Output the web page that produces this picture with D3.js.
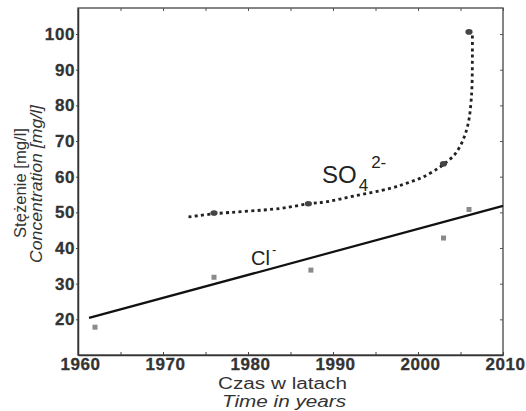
<!DOCTYPE html>
<html><head><meta charset="utf-8">
<script src="https://cdn.jsdelivr.net/npm/d3@7"></script>
<style>
body{margin:0;background:#fff;}
svg{display:block;font-family:"Liberation Sans",Arial,sans-serif;}
</style></head>
<body>
<svg id="c" width="526" height="411"></svg>
<script>
// Measured data
const clYears = [1962, 1976, 1987.4, 2003, 2006];
const clValues = [17.8, 31.8, 33.8, 42.8, 50.8];
const so4Years = [1976, 1987.1, 2003, 2006];
const so4Values = [49.8, 52.4, 63.6, 100.6];
// Cl- trend line end points
const clTrendYears = [1961.3, 2010];
const clTrendValues = [20.4, 51.8];
// SO4 fitted curve read along its course
const so4CurveYears = [1973, 1976, 1983.8, 1987.1, 1989.3, 1992.5, 1996.7, 1998.7, 2000.6, 2002.4, 2003.3, 2004.2, 2004.9, 2005.45, 2005.8, 2006.05, 2006.22, 2006.35, 2006.4, 2006.4];
const so4CurveValues = [48.7, 49.6, 51.1, 52.4, 53.0, 54.6, 56.7, 58.2, 59.9, 62.4, 64.0, 65.9, 68.3, 71.2, 73.9, 76.8, 80.5, 85.2, 94.5, 99.6];
const xTicks = [1960, 1965, 1970, 1975, 1980, 1985, 1990, 1995, 2000, 2005, 2010];
const yTicks = [20, 30, 40, 50, 60, 70, 80, 90, 100];

const svg = d3.select("#c");
const L = 78, R = 503, T = 8, B = 355;
const x = d3.scaleLinear().domain([1960, 2010]).range([L, R]);
const y = d3.scaleLinear().domain([10, 107.3]).range([B, T]);

// frame
svg.append("rect").attr("x", L).attr("y", T).attr("width", R - L).attr("height", B - T)
  .attr("fill", "none").attr("stroke", "#444").attr("stroke-width", 1.3);

// bottom axis
const gx = svg.append("g").attr("transform", `translate(0,${B})`)
  .call(d3.axisBottom(x).tickValues(xTicks).tickSizeInner(-3).tickSizeOuter(0).tickPadding(3)
    .tickFormat(d => d % 10 === 0 ? d : ""));
gx.select(".domain").attr("stroke", "#333").attr("stroke-width", 1.5);
gx.selectAll(".tick line").attr("stroke", "#444");
gx.selectAll("text").attr("font-size", 17).attr("font-weight", "bold").attr("fill", "#333")
  .attr("letter-spacing", 0.6).attr("dx", 2).attr("stroke", "#333").attr("stroke-width", 0.3);

// top ticks
svg.append("g").attr("transform", `translate(0,${T})`)
  .call(d3.axisTop(x).tickValues(xTicks).tickSizeInner(-3).tickSizeOuter(0).tickFormat(""))
  .call(g => { g.select(".domain").remove(); g.selectAll(".tick line").attr("stroke", "#555"); });

// left axis
const gy = svg.append("g").attr("transform", `translate(${L},0)`)
  .call(d3.axisLeft(y).tickValues(yTicks).tickSizeInner(2).tickSizeOuter(0).tickPadding(1));
gy.select(".domain").attr("stroke", "#333").attr("stroke-width", 1.5);
gy.selectAll(".tick line").attr("stroke", "#444");
gy.selectAll("text").attr("font-size", 17).attr("font-weight", "bold").attr("fill", "#333")
  .attr("letter-spacing", 0.6).attr("stroke", "#333").attr("stroke-width", 0.3);

// right ticks
svg.append("g").attr("transform", `translate(${R},0)`)
  .call(d3.axisRight(y).tickValues(yTicks).tickSizeInner(-3).tickSizeOuter(0).tickFormat(""))
  .call(g => { g.select(".domain").remove(); g.selectAll(".tick line").attr("stroke", "#555"); });

// Cl trend
svg.append("path")
  .datum(clTrendYears.map((d, i) => [d, clTrendValues[i]]))
  .attr("d", d3.line().x(d => x(d[0])).y(d => y(d[1])))
  .attr("fill", "none").attr("stroke", "#111").attr("stroke-width", 2.2);

// SO4 curve
svg.append("path")
  .datum(so4CurveYears.map((d, i) => [d, so4CurveValues[i]]))
  .attr("d", d3.line().x(d => x(d[0])).y(d => y(d[1])).curve(d3.curveCatmullRom.alpha(0.5)))
  .attr("fill", "none").attr("stroke", "#222").attr("stroke-width", 2.8)
  .attr("stroke-dasharray", "3,3.3");

// markers
svg.append("g").selectAll("rect").data(clYears).join("rect")
  .attr("x", (d, i) => x(d) - 2.5).attr("y", (d, i) => y(clValues[i]) - 2.5)
  .attr("width", 5).attr("height", 5).attr("fill", "#8a8a8a");
svg.append("g").selectAll("ellipse").data(so4Years).join("ellipse")
  .attr("cx", d => x(d)).attr("cy", (d, i) => y(so4Values[i]))
  .attr("rx", 3.6).attr("ry", 2.8).attr("fill", "#444");

// series labels
const so = svg.append("text").attr("x", 322).attr("y", 183).attr("font-size", 24).attr("fill", "#222");
so.append("tspan").text("SO");
so.append("tspan").attr("font-size", 17).attr("dy", 8).attr("dx", 2).text("4");
so.append("tspan").attr("font-size", 17).attr("dy", -23).attr("dx", 3).text("2-");
const cl = svg.append("text").attr("x", 251).attr("y", 265).attr("font-size", 20).attr("fill", "#222");
cl.append("tspan").text("Cl");
cl.append("tspan").attr("font-size", 13).attr("dy", -11).attr("dx", 2).text("-");

// axis titles
svg.append("text").attr("x", 218).attr("y", 389)
  .attr("font-size", 16).attr("fill", "#333")
  .attr("textLength", 129).attr("lengthAdjust", "spacingAndGlyphs").text("Czas w latach");
svg.append("text").attr("x", 222).attr("y", 407)
  .attr("font-size", 16).attr("font-style", "italic").attr("fill", "#333")
  .attr("textLength", 124).attr("lengthAdjust", "spacingAndGlyphs").text("Time in years");
svg.append("text").attr("transform", "translate(26,238) rotate(-90)")
  .attr("font-size", 17).attr("fill", "#333")
  .attr("textLength", 110).attr("lengthAdjust", "spacingAndGlyphs").text("Stężenie [mg/l]");
svg.append("text").attr("transform", "translate(42,263) rotate(-90)")
  .attr("font-size", 17).attr("font-style", "italic").attr("fill", "#333")
  .attr("textLength", 158).attr("lengthAdjust", "spacingAndGlyphs").text("Concentration [mg/l]");
</script>
</body></html>
